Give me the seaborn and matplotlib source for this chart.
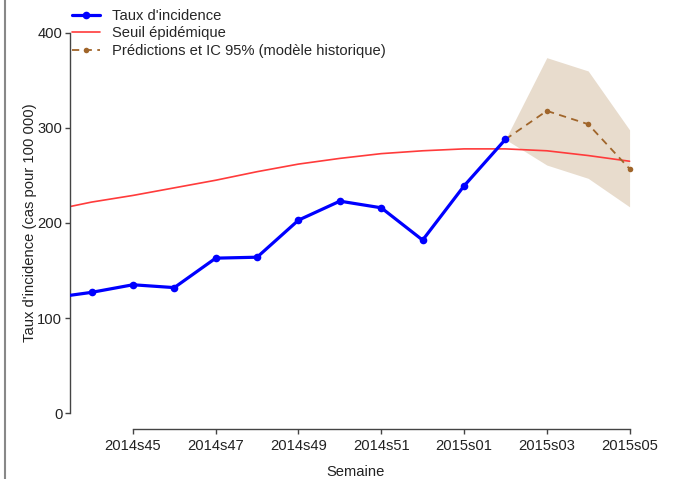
import numpy as np
import pandas as pd
import matplotlib
matplotlib.use("Agg")
import matplotlib.pyplot as plt
from matplotlib.lines import Line2D
import seaborn as sns

# Data
weeks = ["2014s43", "2014s44", "2014s45", "2014s46", "2014s47", "2014s48",
         "2014s49", "2014s50", "2014s51", "2014s52", "2015s01", "2015s02",
         "2015s03", "2015s04", "2015s05"]
incidence = [121, 127, 135, 132, 163, 164, 203, 223, 216, 182, 239, 288]
threshold = [213, 222, 229, 237, 245, 254, 262, 268, 273, 276, 278, 278, 276, 271, 265]
pred_weeks = ["2015s02", "2015s03", "2015s04", "2015s05"]
pred = [288, 318, 304, 257]
pred_low = [288, 261, 247, 217]
pred_high = [288, 374, 360, 298]

idx = {w: i for i, w in enumerate(weeks)}
df_inc = pd.DataFrame({"x": [idx[w] for w in weeks[:len(incidence)]], "y": incidence})
df_thr = pd.DataFrame({"x": [idx[w] for w in weeks], "y": threshold})
df_pred = pd.DataFrame({"x": [idx[w] for w in pred_weeks], "y": pred,
                        "lo": pred_low, "hi": pred_high})

sns.set_style("ticks")
plt.rcParams["font.family"] = ["Liberation Sans", "DejaVu Sans"]
fs = 10.6
plt.rcParams["font.size"] = fs

fig = plt.figure(figsize=(6.8, 4.79), dpi=100)
ax = fig.add_axes([70 / 680, 1 - 429 / 479, 572 / 680, 412 / 479])

blue = "#0000FF"
red = "#FF3B3B"
brown = "#A0652A"
fill = "#E8DCCD"

# CI band
ax.fill_between(df_pred["x"], df_pred["lo"], df_pred["hi"], color=fill, lw=0, zorder=1)

sns.lineplot(data=df_thr, x="x", y="y", ax=ax, color=red, lw=1.2, zorder=2)
sns.lineplot(data=df_pred, x="x", y="y", ax=ax, color=brown, lw=1.3,
             linestyle=(0, (4, 3)), marker="o", markersize=4,
             markeredgewidth=0, zorder=3)
sns.lineplot(data=df_inc, x="x", y="y", ax=ax, color=blue, lw=2.3,
             marker="o", markersize=5.5, markeredgewidth=0, zorder=4)

ax.set_xlim(0.48, 14.3)
ax.set_ylim(-16.8, 416.8)

tick_pos = list(range(2, len(weeks), 2))
ax.set_xticks(tick_pos)
ax.set_xticklabels([weeks[i] for i in tick_pos])
ax.set_yticks([0, 100, 200, 300, 400])

for side in ["top", "right"]:
    ax.spines[side].set_visible(False)
ax.spines["bottom"].set_bounds(2, 14)
ax.spines["left"].set_bounds(0, 400)
for side in ["bottom", "left"]:
    ax.spines[side].set_color("#444444")
    ax.spines[side].set_linewidth(1.0)
ax.tick_params(colors="#444444", labelcolor="#222222", length=3.5, width=1.0,
               labelsize=fs, pad=2)
ax.tick_params(axis="x", pad=4)

ax.set_xlabel("Semaine", fontsize=fs, color="#222222", labelpad=8)
ax.set_ylabel("Taux d'incidence (cas pour 100 000)", fontsize=fs,
              color="#222222", labelpad=0)

handles = [
    Line2D([], [], color=blue, lw=2.3, marker="o", markersize=5.5, markeredgewidth=0),
    Line2D([], [], color=red, lw=1.2),
    Line2D([], [], color=brown, lw=1.3, linestyle=(0, (4, 3)), marker="o",
           markersize=4, markeredgewidth=0),
]
labels = ["Taux d'incidence", "Seuil épidémique",
          "Prédictions et IC 95% (modèle historique)"]
fig.legend(handles, labels, loc="upper left", bbox_to_anchor=(72 / 680, 1 - 9 / 479),
           frameon=False, fontsize=fs, handlelength=1.9, handletextpad=0.85,
           labelspacing=0.23, borderpad=0, borderaxespad=0)

# thin grey frame line on the left edge
fig.add_artist(Line2D([4.5 / 680, 4.5 / 680], [0, 1], color="#888888", lw=1.5,
                      transform=fig.transFigure))

fig.savefig("out.png", dpi=100)
